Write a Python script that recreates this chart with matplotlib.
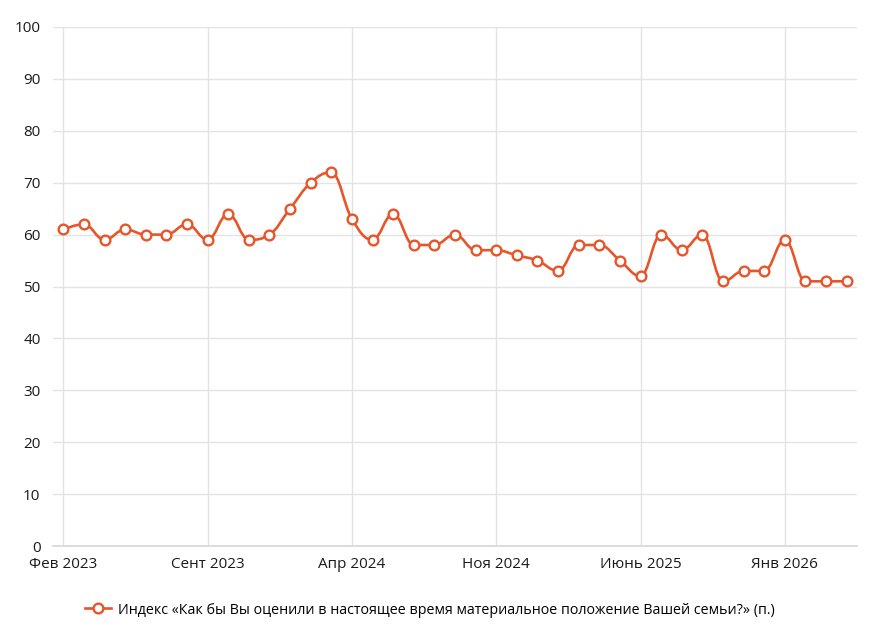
import matplotlib
matplotlib.use("Agg")
import matplotlib.pyplot as plt
from matplotlib.path import Path
from matplotlib.patches import PathPatch
from matplotlib.lines import Line2D

plt.rcParams["font.family"] = ["Open Sans", "DejaVu Sans"]

# помесячно, февраль 2023 - апрель 2026
values = [61, 62, 59, 61, 60, 60, 62, 59, 64, 59, 60, 65,
          70, 72, 63, 59, 64, 58, 58, 60, 57, 57, 56, 55,
          53, 58, 58, 55, 52, 60, 57, 60, 51, 53, 53, 59,
          51, 51, 51]
tick_pos = [0, 7, 14, 21, 28, 35]
tick_labels = ["Фев 2023", "Сент 2023", "Апр 2024", "Ноя 2024", "Июнь 2025", "Янв 2026"]
y_ticks = list(range(0, 101, 10))
series_name = "Индекс «Как бы Вы оценили в настоящее время материальное положение Вашей семьи?» (п.)"

COLOR = "#e8552a"


def spline_path(xs, ys, smoothing=1.5, denom=2.5):
    """Кривая в стиле Highcharts spline."""
    n = len(xs)
    left = [None] * n
    right = [None] * n
    for i in range(1, n - 1):
        px, py = xs[i], ys[i]
        lx, ly = xs[i - 1], ys[i - 1]
        nx, ny = xs[i + 1], ys[i + 1]
        lcx = (smoothing * px + lx) / denom
        lcy = (smoothing * py + ly) / denom
        rcx = (smoothing * px + nx) / denom
        rcy = (smoothing * py + ny) / denom
        corr = 0.0
        if rcx != lcx:
            corr = (rcy - lcy) * (rcx - px) / (rcx - lcx) + py - rcy
        lcy += corr
        rcy += corr
        if lcy > ly and lcy > py:
            lcy = max(ly, py)
            rcy = 2 * py - lcy
        elif lcy < ly and lcy < py:
            lcy = min(ly, py)
            rcy = 2 * py - lcy
        if rcy > ny and rcy > py:
            rcy = max(ny, py)
            lcy = 2 * py - rcy
        elif rcy < ny and rcy < py:
            rcy = min(ny, py)
            lcy = 2 * py - rcy
        left[i] = (lcx, lcy)
        right[i] = (rcx, rcy)

    verts = [(xs[0], ys[0])]
    codes = [Path.MOVETO]
    for i in range(1, n):
        c1 = right[i - 1] if right[i - 1] is not None else (xs[i - 1], ys[i - 1])
        c2 = left[i] if left[i] is not None else (xs[i], ys[i])
        verts += [c1, c2, (xs[i], ys[i])]
        codes += [Path.CURVE4] * 3
    return Path(verts, codes)


fig = plt.figure(figsize=(8.77, 6.34), dpi=100)
ax = fig.add_axes([53 / 877, 1 - 546 / 634, 804 / 877, 519 / 634])

x = list(range(len(values)))
ax.add_patch(PathPatch(spline_path(x, values), fill=False, edgecolor=COLOR,
                       linewidth=1.9, zorder=3, capstyle="round", joinstyle="round"))
ax.plot(x, values, linestyle="none", marker="o", markersize=7,
        markerfacecolor="white", markeredgecolor=COLOR, markeredgewidth=1.7, zorder=4)

ax.set_xlim(-0.5, len(values) - 0.5)
ax.set_ylim(0, 100)
ax.set_yticks(y_ticks)
ax.set_xticks(tick_pos)
ax.set_xticklabels(tick_labels)

ax.grid(True, color="#e3e3e3", linewidth=1.0, zorder=0)
ax.set_axisbelow(True)
for side in ["top", "right", "left"]:
    ax.spines[side].set_visible(False)
ax.spines["bottom"].set_color("#d6d6d6")
ax.spines["bottom"].set_linewidth(1.2)
ax.tick_params(axis="both", length=0, labelsize=11, colors="#1a1a1a")
ax.tick_params(axis="y", pad=9)
ax.tick_params(axis="x", pad=8)

handle = Line2D([], [], color=COLOR, linewidth=1.9, marker="o", markersize=7,
                markerfacecolor="white", markeredgecolor=COLOR, markeredgewidth=1.7)
fig.legend([handle], [series_name], loc="center", bbox_to_anchor=(0.49, 1 - 610 / 634),
           frameon=False, fontsize=10.3, handlelength=1.8, handletextpad=0.5)

fig.savefig("out.png", dpi=100)
